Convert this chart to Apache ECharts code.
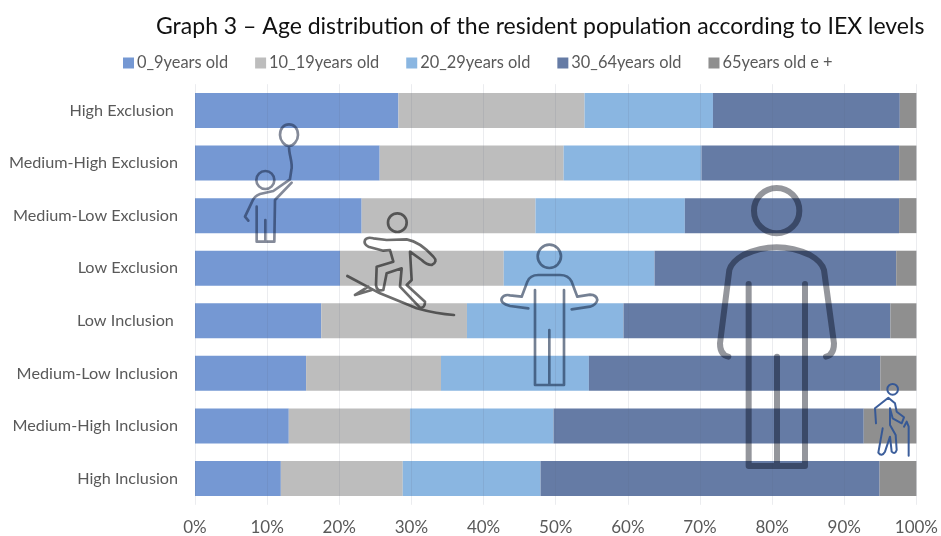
<!DOCTYPE html>
<html>
<head>
<meta charset="utf-8">
<style>html,body{margin:0;padding:0;background:#fff}#c{width:941px;height:536px}</style>
<script src="https://cdn.jsdelivr.net/npm/echarts@6/dist/echarts.min.js"></script>
</head>
<body>
<div id="c"></div>
<script>
const categories = ['High Exclusion ', 'Medium-High Exclusion', 'Medium-Low Exclusion', 'Low Exclusion',
  'Low Inclusion ', 'Medium-Low Inclusion', 'Medium-High Inclusion', 'High Inclusion'];
const age0to9 = [28.2, 25.6, 23.1, 20.1, 17.5, 15.4, 13.0, 11.9];
const age10to19 = [25.8, 25.5, 24.1, 22.7, 20.2, 18.7, 16.8, 16.9];
const age20to29 = [17.8, 19.1, 20.7, 20.9, 21.7, 20.5, 19.9, 19.1];
const age30to64 = [25.9, 27.4, 29.7, 33.5, 37.0, 40.4, 43.0, 47.0];
const age65plus = [2.3, 2.4, 2.4, 2.8, 3.6, 5.0, 7.3, 5.1];
const seriesNames = ['0_9years old', '10_19years old', '20_29years old', '30_64years old', '65years old e +'];
const seriesValues = [age0to9, age10to19, age20to29, age30to64, age65plus];
const seriesColors = ['#7598d3', '#bdbdbd', '#8ab6e1', '#657ba5', '#8f8f8f'];
const FONT = 'Lato';

// Outline icons laid over the bars, one per age group; authored at 3x, drawn at 1/3 scale.
function icon(x, y, pathData, stroke, lineWidth) {
  return {
    type: 'path', x, y, scaleX: 1 / 3, scaleY: 1 / 3,
    shape: { pathData },
    style: { fill: 'none', stroke, lineWidth, lineJoin: 'round', lineCap: 'round' }
  };
}
function circle(cx, cy, r) {
  return `M${cx - r} ${cy}A${r} ${r} 0 1 1 ${cx + r} ${cy}A${r} ${r} 0 1 1 ${cx - r} ${cy}Z`;
}
const childPath = 'M150 75C150 55 162 43 177 43C192 43 204 55 204 75C204 92 190 108 177 108C164 108 150 92 150 75Z' +
  'M177 108C176 135 190 160 184 180C182 195 180 205 180 207' +
  circle(106, 210, 27) +
  'M180 208L130 243L90 252Q72 258 65 278L45 320L55 332' +
  'M185 218L135 270L133 395L80 395L80 290M106 330L106 395';
const surferPath = circle(502, 338, 28) +
  'M405 390Q412 380 430 385L470 390L530 388Q570 395 610 440Q625 455 605 465Q590 465 575 450L540 425L545 510L530 525L585 575Q585 595 570 593L510 530L515 475L470 490L460 540Q440 545 438 525L440 470L490 455L480 420L460 422L415 410Q400 402 405 390Z' +
  'M352 498L450 550L560 595Q620 612 672 615M415 530L375 555L425 540';
const adultPath = circle(178, 259, 35) +
  'M115 415L60 408Q30 400 35 385Q42 372 60 376L95 380L112 335Q120 315 145 315L210 315Q235 315 245 335L262 380L300 374Q320 375 322 390Q318 405 300 410L245 418' +
  'M135 360L135 645L222 645L222 360M178 480L178 645';
const bigPath = circle(230, 122, 68) +
  'M85 560Q60 555 60 520L88 300Q95 275 130 255Q180 232 230 232Q280 232 330 255Q365 275 372 300L402 520Q402 555 378 560' +
  'M146 342L146 888L315 888L315 342M231 560L231 888';
const elderPath = circle(578, 658, 16) +
  'M528 760L525 715L565 683L585 700L590 725L612 742L605 760L578 745L570 715L570 765L587 795L590 840Q585 855 575 845L570 800L555 845Q545 862 535 848L548 775' +
  'M612 770L620 755L626 770L626 857';

const chart = echarts.init(document.getElementById('c'), null, { renderer: 'canvas' });
chart.setOption({
  animation: false,
  backgroundColor: '#fff',
  title: {
    text: 'Graph 3 – Age distribution of the resident population according to IEX levels',
    left: 151, top: 10,
    textStyle: { fontFamily: FONT, fontSize: 23, fontWeight: 'normal', color: '#111' }
  },
  legend: {
    left: 118, top: 50, itemWidth: 11, itemHeight: 11, itemGap: 27,
    icon: 'rect',
    textStyle: { fontFamily: FONT, fontSize: 16.4, color: '#595959', padding: [0, 0, 0, -2] },
    data: seriesNames
  },
  grid: { left: 195, right: 23.5, top: 84.2, bottom: 31.2, containLabel: false },
  xAxis: {
    type: 'value', min: 0, max: 100, interval: 10, z: 5,
    axisLine: { show: false }, axisTick: { show: false },
    splitLine: { show: true, lineStyle: { color: 'rgba(90,100,120,0.12)', width: 1 } },
    axisLabel: { formatter: '{value}%', fontFamily: FONT, fontSize: 17, color: '#595959', margin: 14 }
  },
  yAxis: {
    type: 'category', inverse: true, data: categories,
    axisLine: { show: false }, axisTick: { show: false },
    axisLabel: { fontFamily: FONT, fontSize: 16.2, color: '#595959', margin: 17 }
  },
  series: seriesNames.map((name, i) => ({
    name, type: 'bar', stack: 'share', barWidth: 35, z: 2,
    data: seriesValues[i],
    itemStyle: { color: seriesColors[i] }
  })).concat([{
    type: 'custom', coordinateSystem: 'none', silent: true, z: 10,
    data: [0],
    renderItem: () => ({
      type: 'group',
      children: [
        icon(230, 110, childPath, 'rgba(20,30,60,0.52)', 8),
        icon(230, 110, surferPath, 'rgba(20,20,20,0.62)', 8),
        icon(490, 170, adultPath, 'rgba(30,50,80,0.62)', 8),
        icon(700, 170, bigPath, 'rgba(0,5,20,0.42)', 18),
        icon(700, 170, elderPath, 'rgba(50,85,150,0.95)', 6)
      ]
    })
  }])
});
</script>
</body>
</html>
